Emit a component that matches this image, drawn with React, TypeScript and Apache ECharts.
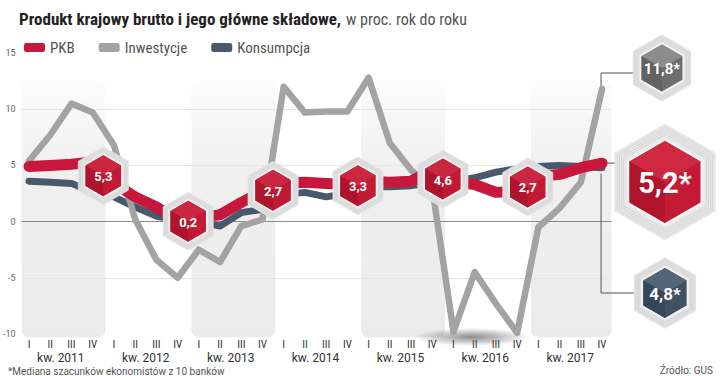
import React, { useEffect, useRef } from 'react';
import * as echarts from 'echarts';

// ---------- data ----------
const QUARTERS = ['I', 'II', 'III', 'IV'];
const YEARS = [2011, 2012, 2013, 2014, 2015, 2016, 2017];
const PKB = [4.9, 5.0, 5.1, 5.3, 3.4, 2.2, 1.3, 0.2, 0.4, 0.6, 1.7, 2.7, 3.4, 3.5, 3.4, 3.3, 3.6, 3.5, 3.6, 4.6, 3.5, 3.3, 2.6, 2.7, 4.0, 4.2, 4.8, 5.2];
const INWESTYCJE = [5.4, 7.7, 10.5, 9.7, 6.8, 0.2, -3.4, -5.0, -2.5, -3.6, -0.4, 0.2, 12.0, 9.7, 9.8, 9.8, 12.8, 7.0, 4.6, 3.0, -9.8, -4.5, -7.3, -9.9, -0.5, 1.2, 3.5, 11.8];
const KONSUMPCJA = [3.6, 3.5, 3.4, 2.6, 2.2, 1.3, 0.5, 0.1, 0.0, -0.4, 0.8, 1.1, 2.4, 2.6, 2.2, 2.5, 3.1, 3.1, 3.2, 3.4, 3.6, 3.9, 4.4, 4.7, 4.9, 5.0, 4.9, 4.8];
const BAND_YEARS = [2011, 2013, 2015, 2017];
const HEX_YEARS = [2011, 2012, 2013, 2014, 2015, 2016];
const Y_MIN = -10;
const Y_MAX = 15;
const Y_STEP = 5;

const RED = '#c8173d';
const GRAY = '#a3a3a3';
const SLATE = '#48596b';
const COND = "'Liberation Sans Narrow', 'Roboto Condensed', Roboto, sans-serif";
const SANS = "Roboto, 'Noto Sans', sans-serif";

const fmt = (v: number) => v.toFixed(1).replace('.', ',');

function hexPts(cx: number, cy: number, R: number) {
  const pts: number[][] = [];
  for (let k = 0; k < 6; k++) {
    const a = ((-90 + 60 * k) * Math.PI) / 180;
    pts.push([cx + R * Math.cos(a), cy + R * Math.sin(a)]);
  }
  return pts;
}

function hexGroup(cx: number, cy: number, s: number, base: string, light: string, dark: string, text: string, fontSize: number, z = 0) {
  const children: any[] = [];
  children.push({ type: 'polygon', z, shape: { points: hexPts(cx, cy, 29 * s) }, style: { fill: '#e8e8e8', stroke: '#dedede', lineWidth: 0.6 } });
  for (let r = 27.6; r > 22.6; r -= 1.25) {
    children.push({ type: 'polygon', z, shape: { points: hexPts(cx, cy, r * s) }, style: { fill: 'none', stroke: '#cdcdcd', lineWidth: 0.55 * Math.min(s, 1.4) } });
  }
  children.push({ type: 'polygon', z, shape: { points: hexPts(cx, cy, 22 * s) }, style: { fill: '#f5f3f3' } });
  const R = 20.5 * s;
  const p = hexPts(cx, cy, R);
  const c = [cx, cy];
  children.push({ type: 'polygon', z, shape: { points: p }, style: { fill: base } });
  children.push({ type: 'polygon', z, shape: { points: [p[5], p[0], p[1], c] }, style: { fill: light } });
  children.push({ type: 'polygon', z, shape: { points: [p[5], c, p[3], p[4]] }, style: { fill: dark } });
  children.push({
    type: 'text', z,
    style: { text, x: cx, y: cy + 1, fill: '#ffffff', fontSize, fontWeight: 'bold', fontFamily: SANS, align: 'center', verticalAlign: 'middle' },
  });
  return children;
}

export default function App() {
  const ref = useRef<HTMLDivElement>(null);
  useEffect(() => {
    document.body.style.margin = '0';
    const chart = echarts.init(ref.current!, null, { renderer: 'svg' });
    const xMin = -0.35;
    const xMax = 27.45;
    const idx = PKB.map((_, i) => i);
    const yearCenters = YEARS.map((_, k) => k * 4 + 1.5);
    const bandData = BAND_YEARS.map((y) => [(y - YEARS[0]) * 4]);
    const hexData = HEX_YEARS.map((y) => {
      const i = (y - YEARS[0]) * 4 + 3;
      return [i + 0.5, (PKB[i] + PKB[i + 1]) / 2, PKB[i]];
    });
    const option: any = {
      animation: false,
      title: {
        left: 14,
        top: 5,
        text: '{b|Produkt krajowy brutto i jego główne składowe,} {l|w proc. rok do roku}',
        textStyle: {
          rich: {
            b: { fontFamily: COND, fontWeight: 'bold', fontSize: 17, color: '#222' },
            l: { fontFamily: COND, fontWeight: 'normal', fontSize: 16, color: '#555' },
          },
        },
      },
      legend: {
        left: 19,
        top: 35,
        icon: 'roundRect',
        itemWidth: 21,
        itemHeight: 9,
        itemGap: 24,
        textStyle: { fontFamily: COND, fontSize: 15, color: '#555' },
        data: ['PKB', 'Inwestycje', 'Konsumpcja'],
      },
      grid: { left: 19.5, right: 108.4, top: 53, bottom: 42, containLabel: false },
      xAxis: [
        {
          type: 'value', min: xMin, max: xMax,
          axisLine: { show: false }, axisTick: { show: false }, splitLine: { show: false },
          axisLabel: {
            customValues: idx, margin: 5, color: '#333', fontSize: 11, fontFamily: COND,
            formatter: (v: number) => QUARTERS[Math.round(v) % 4],
          },
        },
        {
          type: 'value', min: xMin, max: xMax, position: 'bottom', offset: 0,
          axisLine: { show: false }, axisTick: { show: false }, splitLine: { show: false },
          axisLabel: {
            customValues: yearCenters, margin: 18, color: '#333', fontSize: 12, fontFamily: SANS,
            formatter: (v: number) => 'kw. ' + YEARS[Math.round((v - 1.5) / 4)],
          },
        },
      ],
      yAxis: {
        type: 'value', min: Y_MIN, max: Y_MAX, interval: Y_STEP,
        axisLine: { show: false }, axisTick: { show: false },
        axisLabel: { margin: 6, color: '#666', fontSize: 9, fontFamily: SANS },
        splitLine: {
          lineStyle: { color: ['rgba(0,0,0,0)', '#e6e6e6', '#8a8a8a', '#e6e6e6', '#e6e6e6', 'rgba(0,0,0,0)'], width: 1 },
        },
      },
      series: [
        {
          type: 'custom', name: 'bands', z: -1, silent: true,
          data: bandData,
          renderItem: (params: any, api: any) => {
            const s = api.value(0);
            const cs = params.coordSys;
            const p1 = api.coord([s - 0.35, 12.6]);
            const p2 = api.coord([s + 3.6, -10.3]);
            const x1 = Math.max(p1[0], cs.x);
            const x2 = Math.min(p2[0], cs.x + cs.width);
            return {
              type: 'rect',
              shape: { x: x1, y: p1[1], width: x2 - x1, height: p2[1] - p1[1], r: 7 },
              style: {
                fill: new echarts.graphic.LinearGradient(0, 0, 0, 1, [
                  { offset: 0, color: 'rgba(236,236,236,0.15)' },
                  { offset: 0.35, color: 'rgba(236,236,236,0.8)' },
                  { offset: 1, color: '#ebebeb' },
                ]),
              },
            };
          },
        },
        {
          type: 'line', name: 'Konsumpcja', data: KONSUMPCJA.map((v, i) => [i, v]),
          showSymbol: false, color: SLATE, lineStyle: { width: 7, color: SLATE, cap: 'round', join: 'round' }, z: 3,
        },
        {
          type: 'line', name: 'Inwestycje', data: INWESTYCJE.map((v, i) => [i, v]),
          showSymbol: false, color: GRAY, lineStyle: { width: 6.5, color: GRAY, cap: 'round', join: 'round' }, z: 4,
        },
        {
          type: 'line', name: 'PKB', data: PKB.map((v, i) => [i, v]),
          showSymbol: false, color: RED, lineStyle: { width: 11, color: RED, cap: 'round', join: 'round' }, z: 5,
        },
        {
          type: 'custom', name: 'hex', z: 10, silent: true,
          data: hexData,
          renderItem: (params: any, api: any) => {
            const p = api.coord([api.value(0), api.value(1)]);
            return {
              type: 'group',
              children: hexGroup(p[0], p[1] + 3, 1, '#c01a34', '#cc2740', '#b0142c', fmt(api.value(2)), 13),
            };
          },
        },
      ],
    };
    chart.setOption(option);

    const px = (v: number) => chart.convertToPixel({ xAxisIndex: 0, yAxisIndex: 0 }, [PKB.length - 1, v]) as number[];
    const eInv = px(INWESTYCJE[INWESTYCJE.length - 1]);
    const ePkb = px(PKB[PKB.length - 1]);
    const eKon = px(KONSUMPCJA[KONSUMPCJA.length - 1]);
    const line = (points: number[][]) => ({ type: 'polyline', z: 1, shape: { points }, style: { stroke: '#555', lineWidth: 1, fill: 'none' } });
    const graphic: any[] = [
      {
        type: 'ellipse', z: 0, shape: { cx: 472, cy: 337, rx: 58, ry: 9 },
        style: {
          fill: new echarts.graphic.RadialGradient(0.5, 0.5, 0.5, [
            { offset: 0, color: 'rgba(0,0,0,0.45)' },
            { offset: 1, color: 'rgba(0,0,0,0)' },
          ]),
        },
      },
      line([[eInv[0] - 1, eInv[1]], [eInv[0] - 1, 73], [634, 73]]),
      line([[ePkb[0] + 4, ePkb[1]], [615, ePkb[1]]]),
      line([[eKon[0] - 1, eKon[1] + 6], [eKon[0] - 1, 293], [634, 293]]),
      { type: 'group', children: hexGroup(662, 68, 1.15, '#6e6e6e', '#8c8c8c', '#626262', fmt(INWESTYCJE[INWESTYCJE.length - 1]) + '*', 15, 5) },
      { type: 'group', children: hexGroup(665, 182, 2.0, '#c41a35', '#cf2942', '#b0142c', fmt(PKB[PKB.length - 1]) + '*', 29, 5) },
      { type: 'group', children: hexGroup(665, 293, 1.22, '#3f5164', '#536578', '#36475a', fmt(KONSUMPCJA[KONSUMPCJA.length - 1]) + '*', 17, 5) },
      {
        type: 'text', left: 8, top: 366,
        style: { text: '*Mediana szacunków ekonomistów z 10 banków', fill: '#555', fontSize: 10, fontFamily: SANS },
      },
      {
        type: 'text', right: 7, top: 365,
        style: { text: 'Źródło: GUS', fill: '#555', fontSize: 10, fontFamily: SANS },
      },
    ];
    chart.setOption({ graphic });
    return () => chart.dispose();
  }, []);
  return <div ref={ref} style={{ width: 720, height: 376, position: 'absolute', left: 0, top: 0 }} />;
}
